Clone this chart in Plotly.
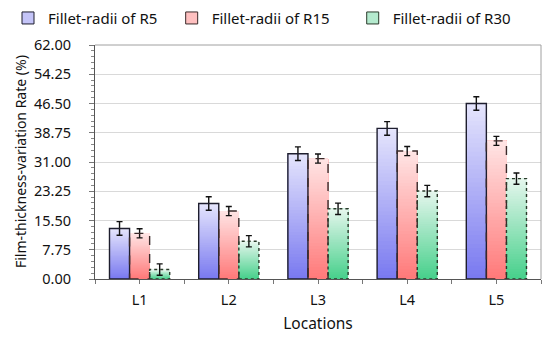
import plotly.graph_objects as go

categories = ["L1", "L2", "L3", "L4", "L5"]
series_names = ["Fillet-radii of R5", "Fillet-radii of R15", "Fillet-radii of R30"]
r5_values = [13.4, 20.0, 33.2, 39.9, 46.5]
r15_values = [12.1, 18.0, 31.9, 33.9, 36.6]
r30_values = [2.5, 10.0, 18.6, 23.3, 26.6]
r5_err = [1.8, 1.8, 1.8, 1.8, 1.8]
r15_err = [1.2, 1.2, 1.2, 1.2, 1.2]
r30_err = [1.5, 1.5, 1.5, 1.5, 1.5]
y_ticks = [0.00, 7.75, 15.50, 23.25, 31.00, 38.75, 46.50, 54.25, 62.00]
y_title = "Film-thickness-variation Rate (%)"

values = [r5_values, r15_values, r30_values]
errors = [r5_err, r15_err, r30_err]
top_cols = [(228, 228, 252), (255, 228, 228), (228, 246, 236)]
bot_cols = [(122, 122, 240), (255, 122, 122), (72, 208, 140)]
mid_cols = ["#c4c4f8", "#ffc0c0", "#b4eace"]
edge_cols = ["#1e1e2e", "#3a2a2a", "#2a3a2a"]
dashes = ["solid", "dash", "dot"]
legend_ids = ["legend", "legend2", "legend3"]
width = 0.225
offsets = [-0.3375, -0.1125, 0.1125]
N = 40

fig = go.Figure()
for s in range(3):
    xs, ys, bases, cols = [], [], [], []
    for i, c in enumerate(categories):
        v = values[s][i]
        for k in range(N):
            t = k / (N - 1)
            rgb = [round(bot_cols[s][j] + (top_cols[s][j] - bot_cols[s][j]) * t) for j in range(3)]
            xs.append(c)
            bases.append(v * k / N)
            ys.append(v - v * k / N)
            cols.append(f"rgb({rgb[0]},{rgb[1]},{rgb[2]})")
    fig.add_trace(go.Bar(x=xs, y=ys, base=bases, offset=offsets[s], width=width,
                         marker=dict(color=cols, line=dict(width=0)),
                         showlegend=False, hoverinfo="skip"))
    fig.add_trace(go.Bar(x=categories, y=values[s], offset=offsets[s], width=width,
                         marker=dict(color="rgba(0,0,0,0)", line=dict(width=0)),
                         error_y=dict(type="data", array=errors[s], color="#111111",
                                      thickness=1.4, width=3),
                         showlegend=False))
    fig.add_trace(go.Bar(x=[None], y=[None], name=series_names[s], legend=legend_ids[s],
                         marker=dict(color=mid_cols[s], line=dict(color=edge_cols[s], width=1))))
    for i, c in enumerate(categories):
        fig.add_shape(type="rect", xref="x", yref="y",
                      x0=c, x1=c, x0shift=offsets[s], x1shift=offsets[s] + width,
                      y0=0, y1=values[s][i],
                      line=dict(color=edge_cols[s], width=1.4, dash=dashes[s]),
                      fillcolor="rgba(0,0,0,0)", layer="above")

fig.add_shape(type="line", xref="paper", yref="paper", x0=0, x1=1, y0=1, y1=1,
              line=dict(color="#a0a0a0", width=1))
fig.add_shape(type="line", xref="paper", yref="paper", x0=1, x1=1, y0=0, y1=1,
              line=dict(color="#a0a0a0", width=1))

fig.add_annotation(text=y_title, xref="paper", yref="paper", x=-0.168, y=0.5,
                   xanchor="center", yanchor="middle", textangle=-90, showarrow=False,
                   font=dict(size=14, family="Noto Sans", color="#111111"))

leg_common = dict(orientation="h", xref="container", yref="paper", y=1.185,
                  xanchor="left", yanchor="top", font=dict(size=15),
                  itemwidth=30, bgcolor="rgba(0,0,0,0)")

fig.update_layout(
    width=542, height=332,
    margin=dict(l=87, r=9, t=37, b=61, autoexpand=False),
    barmode="overlay",
    plot_bgcolor="white", paper_bgcolor="white",
    font=dict(family="Noto Sans", size=14, color="#111111"),
    legend=dict(x=0.0, **leg_common),
    legend2=dict(x=0.302, **leg_common),
    legend3=dict(x=0.636, **leg_common),
    xaxis=dict(type="category", categoryarray=categories, range=[-0.5, 4.5],
               showgrid=False, showline=True, linecolor="#555555", linewidth=1,
               ticks="outside", ticklen=4, tickcolor="#777777", automargin=False,
               ticklabelstandoff=4,
               title=dict(text="Locations", font=dict(size=15.5), standoff=9),
               tickfont=dict(size=14.5)),
    xaxis2=dict(overlaying="x", anchor="y", side="bottom", range=[-0.5, 4.5],
                tick0=0.5, dtick=1, ticks="outside", ticklen=4, tickcolor="#777777",
                showticklabels=False, showgrid=False, zeroline=False, showline=False),
    yaxis=dict(range=[0, 62], tickvals=y_ticks, tickformat=".2f", automargin=False,
               showgrid=True, gridcolor="#d9d9d9", gridwidth=1,
               showline=True, linecolor="#555555", linewidth=1, zeroline=False,
               ticks="outside", ticklen=5, tickcolor="#777777", ticklabelstandoff=15,
               minor=dict(dtick=1.55, ticks="outside", ticklen=3, tickcolor="#888888", showgrid=False),
               tickfont=dict(size=14.5)),
)
fig.add_trace(go.Scatter(x=[None], y=[None], xaxis="x2", showlegend=False))

fig.write_html("out.html")
